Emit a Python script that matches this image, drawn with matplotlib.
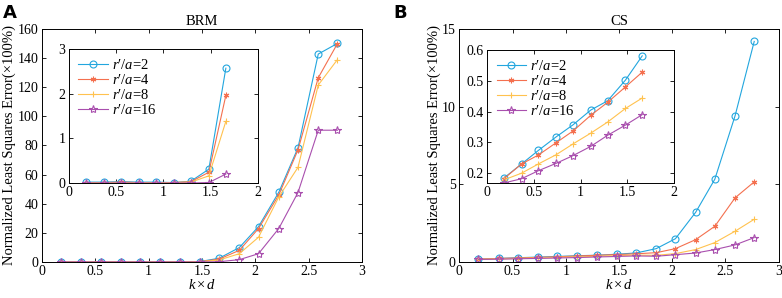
import matplotlib
matplotlib.use("Agg")
from matplotlib import pyplot as plt

plt.rcParams['font.family'] = 'Liberation Serif'
plt.rcParams['mathtext.fontset'] = 'custom'
plt.rcParams['mathtext.rm'] = 'Liberation Serif'
plt.rcParams['mathtext.it'] = 'Liberation Serif:italic'

# k*d sample points
kd = [0.18, 0.37, 0.55, 0.74, 0.92, 1.11, 1.29, 1.48, 1.66, 1.85, 2.03, 2.22, 2.40, 2.59, 2.77]

labels = ["$r$′/$a$=2", "$r$′/$a$=4", "$r$′/$a$=8", "$r$′/$a$=16"]

# BRM errors (x100%)
brm_2 = [0.02, 0.02, 0.03, 0.02, 0.02, 0.01, 0.04, 0.31, 2.57, 9.9, 24.3, 47.9, 78.4, 142.8, 150.1]
brm_4 = [0.01, 0.01, 0.02, 0.01, 0.01, 0.01, 0.03, 0.24, 1.96, 8.0, 23.0, 46.0, 77.0, 126.5, 150.0]
brm_8 = [0.01, 0.01, 0.01, 0.01, 0.01, 0.01, 0.02, 0.16, 1.38, 5.7, 17.0, 44.7, 65.0, 121.5, 139.0]
brm_16 = [0.0, 0.0, 0.0, 0.0, 0.0, 0.0, 0.0, 0.01, 0.20, 1.6, 5.7, 23.0, 47.7, 90.5, 90.5]

# CS errors (x100%)
cs_2 = [0.184, 0.23, 0.274, 0.318, 0.357, 0.405, 0.435, 0.502, 0.581, 0.86, 1.5, 3.2, 5.33, 9.41, 14.2]
cs_4 = [0.182, 0.23, 0.259, 0.299, 0.337, 0.388, 0.43, 0.48, 0.528, 0.6, 0.86, 1.44, 2.3, 4.13, 5.16]
cs_8 = [0.178, 0.2, 0.23, 0.26, 0.295, 0.33, 0.366, 0.41, 0.444, 0.43, 0.54, 0.8, 1.25, 1.98, 2.75]
cs_16 = [0.168, 0.182, 0.208, 0.232, 0.257, 0.287, 0.323, 0.356, 0.39, 0.37, 0.47, 0.58, 0.8, 1.1, 1.57]

colors = ['#22A6DE', '#F4704F', '#FFC24F', '#A94FAE']
styles = [dict(marker='o', ms=5, mfc='none'),
          dict(marker=(6, 2, 0), ms=4),
          dict(marker='+', ms=5),
          dict(marker='*', ms=6, mfc='none')]


def draw(ax, series, n=None, legend=False):
    for s, c, st, lab in zip(series, colors, styles, labels):
        xs = kd if n is None else kd[:n]
        ys = s if n is None else s[:n]
        ax.plot(xs, ys, color=c, mec=c, lw=0.8, mew=0.8, label=lab, **st)
    ax.tick_params(direction='in', top=True, right=True, labelsize=10, length=3, width=0.6, pad=2.5)
    for sp in ax.spines.values():
        sp.set_linewidth(0.7)
    if legend:
        ax.legend(loc='upper left', frameon=False, fontsize=10.5, handlelength=2.0,
                  labelspacing=0.05, borderaxespad=0.35, handletextpad=0.3, borderpad=0.3)


fig = plt.figure(figsize=(7.82, 2.98), dpi=100)

# panel A
axA = fig.add_axes([0.0537, 0.1208, 0.4092, 0.7819])
draw(axA, [brm_2, brm_4, brm_8, brm_16])
axA.set_xlim(0, 3)
axA.set_ylim(0, 160)
axA.set_yticks(range(0, 161, 20))
axA.set_title('BRM', fontsize=10.5, pad=3)
axA.set_xlabel(r'$k\times d$', fontsize=10.5, labelpad=0)
axA.set_ylabel('Normalized Least Squares Error(×100%)', fontsize=10.5, labelpad=1)

inA = fig.add_axes([0.0882, 0.3859, 0.2417, 0.4497])
draw(inA, [brm_2, brm_4, brm_8, brm_16], n=9, legend=True)
inA.set_xlim(0, 2)
inA.set_ylim(0, 3)
inA.set_yticks([0, 1, 2, 3])
inA.set_xticks([0, 0.5, 1, 1.5, 2])
inA.set_xticklabels(['0', '0.5', '1', '1.5', '2'])

# panel B
axB = fig.add_axes([0.5873, 0.1208, 0.4085, 0.7819])
draw(axB, [cs_2, cs_4, cs_8, cs_16])
axB.set_xlim(0, 3)
axB.set_ylim(0, 15)
axB.set_yticks([0, 5, 10, 15])
axB.set_title('CS', fontsize=10.5, pad=3)
axB.set_xlabel(r'$k\times d$', fontsize=10.5, labelpad=0)
axB.set_ylabel('Normalized Least Squares Error(×100%)', fontsize=10.5, labelpad=1)

inB = fig.add_axes([0.6228, 0.3859, 0.2391, 0.4463])
draw(inB, [cs_2, cs_4, cs_8, cs_16], n=9, legend=True)
inB.set_xlim(0, 2)
inB.set_ylim(0.168, 0.6)
inB.set_yticks([0.2, 0.3, 0.4, 0.5, 0.6])
inB.set_xticks([0, 0.5, 1, 1.5, 2])
inB.set_xticklabels(['0', '0.5', '1', '1.5', '2'])

for ax in (axA, axB):
    ax.set_xticks([0, 0.5, 1, 1.5, 2, 2.5, 3])
    ax.set_xticklabels(['0', '0.5', '1', '1.5', '2', '2.5', '3'])

fig.text(0.004, 0.985, 'A', fontsize=13, fontweight='bold', family='DejaVu Sans', va='top')
fig.text(0.503, 0.985, 'B', fontsize=13, fontweight='bold', family='DejaVu Sans', va='top')

fig.savefig('out.png', dpi=100)
